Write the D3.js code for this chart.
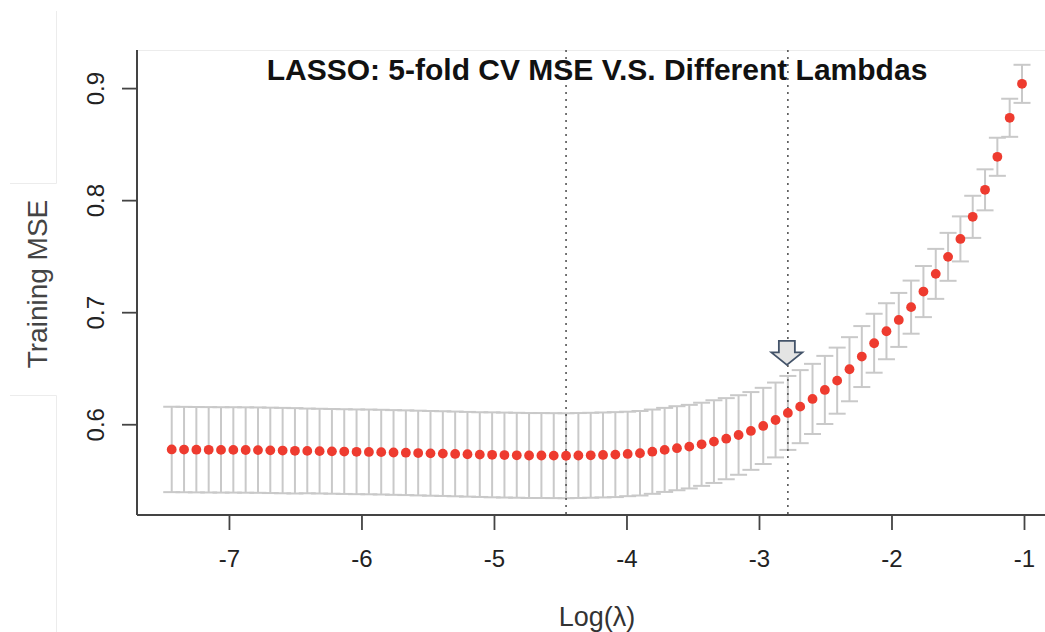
<!DOCTYPE html>
<html>
<head>
<meta charset="utf-8">
<script src="https://cdn.jsdelivr.net/npm/d3@7"></script>
<style>
  body { margin: 0; background: #fff; }
  svg { display: block; font-family: "Liberation Sans", Arial, sans-serif; }
</style>
</head>
<body>
<svg width="1045" height="632"></svg>
<script>
// log(lambda) grid
var logLambda = [-7.432, -7.339, -7.246, -7.153, -7.060, -6.967, -6.874, -6.781, -6.688, -6.595,
                 -6.502, -6.409, -6.316, -6.223, -6.130, -6.037, -5.944, -5.851, -5.758, -5.665,
                 -5.572, -5.479, -5.386, -5.293, -5.200, -5.107, -5.014, -4.921, -4.828, -4.735,
                 -4.642, -4.549, -4.456, -4.363, -4.270, -4.177, -4.084, -3.991, -3.898, -3.805,
                 -3.712, -3.619, -3.526, -3.433, -3.340, -3.247, -3.154, -3.061, -2.968, -2.875,
                 -2.782, -2.689, -2.596, -2.503, -2.410, -2.317, -2.224, -2.131, -2.038, -1.945,
                 -1.852, -1.759, -1.666, -1.573, -1.480, -1.387, -1.294, -1.201, -1.108, -1.015];

// mean cross-validated MSE
var cvm = [0.5775, 0.5774, 0.5773, 0.5772, 0.5771, 0.5771, 0.5770, 0.5769, 0.5767, 0.5765,
           0.5763, 0.5762, 0.5760, 0.5758, 0.5756, 0.5754, 0.5753, 0.5751, 0.5748, 0.5746,
           0.5743, 0.5740, 0.5738, 0.5735, 0.5732, 0.5729, 0.5727, 0.5725, 0.5723, 0.5721,
           0.5721, 0.5720, 0.5719, 0.5721, 0.5723, 0.5726, 0.5729, 0.5735, 0.5741, 0.5755,
           0.5771, 0.5786, 0.5800, 0.5821, 0.5845, 0.5871, 0.5904, 0.5940, 0.5985, 0.6038,
           0.6101, 0.6157, 0.6226, 0.6306, 0.6389, 0.6491, 0.6604, 0.6723, 0.6830, 0.6931,
           0.7045, 0.7184, 0.7342, 0.7494, 0.7654, 0.7851, 0.8092, 0.8387, 0.8735, 0.9038];

// standard error of the CV MSE
var cvsd = [0.0381, 0.0381, 0.0381, 0.0381, 0.0381, 0.0381, 0.0381, 0.0381, 0.0381, 0.0381,
            0.0381, 0.0378, 0.0378, 0.0378, 0.0378, 0.0378, 0.0378, 0.0378, 0.0378, 0.0378,
            0.0378, 0.0378, 0.0378, 0.0378, 0.0378, 0.0378, 0.0379, 0.0379, 0.0379, 0.0379,
            0.0379, 0.0379, 0.0379, 0.0379, 0.0379, 0.0379, 0.0379, 0.0377, 0.0377, 0.0376,
            0.0375, 0.0375, 0.0373, 0.0371, 0.0369, 0.0362, 0.0355, 0.0347, 0.0340, 0.0334,
            0.0330, 0.0326, 0.0313, 0.0304, 0.0295, 0.0286, 0.0272, 0.0263, 0.0250, 0.0241,
            0.0237, 0.0228, 0.0223, 0.0214, 0.0201, 0.0188, 0.0183, 0.0170, 0.0170, 0.0170];

var xTicks = [-7, -6, -5, -4, -3, -2, -1];
var yTicks = [0.6, 0.7, 0.8, 0.9];
var lambdaMin = -4.456, lambda1se = -2.782;

var svg = d3.select("svg"),
    width = +svg.attr("width"),
    height = +svg.attr("height");

var plotLeft = 137, plotTop = 50, plotBottom = 515;

var x = d3.scaleLinear().domain([-7.694, -0.8415]).range([plotLeft, width]);
var y = d3.scaleLinear().domain([0.519, 0.934]).range([plotBottom, plotTop]);

var data = logLambda.map(function(d, i) { return { x: d, m: cvm[i], s: cvsd[i] }; });

// faint frame lines left over from the screenshot
var faint = svg.append("g").attr("stroke", "#ececec").attr("stroke-width", 1).attr("fill", "none");
faint.append("path").attr("d", "M56.5,11V183.5H10");
faint.append("path").attr("d", "M10,395.5H56.5V632");
faint.append("path").attr("d", "M" + plotLeft + ",50.5H" + width);

// error bars
var bars = svg.append("g").attr("stroke", "#c9c9c9").attr("stroke-width", 2);
var cap = 8.5;
data.forEach(function(d) {
  var cx = x(d.x);
  bars.append("line").attr("x1", cx).attr("x2", cx).attr("y1", y(d.m + d.s)).attr("y2", y(d.m - d.s));
  bars.append("line").attr("x1", cx - cap).attr("x2", cx + cap).attr("y1", y(d.m + d.s)).attr("y2", y(d.m + d.s));
  bars.append("line").attr("x1", cx - cap).attr("x2", cx + cap).attr("y1", y(d.m - d.s)).attr("y2", y(d.m - d.s));
});

// lambda.min and lambda.1se lines
[lambdaMin, lambda1se].forEach(function(v) {
  svg.append("line")
      .attr("x1", x(v)).attr("x2", x(v))
      .attr("y1", plotTop).attr("y2", plotBottom)
      .attr("stroke", "#555")
      .attr("stroke-width", 1.6)
      .attr("stroke-dasharray", "2,5");
});

// points
svg.append("g").selectAll("circle")
    .data(data)
    .enter().append("circle")
    .attr("cx", function(d) { return x(d.x); })
    .attr("cy", function(d) { return y(d.m); })
    .attr("r", 4.9)
    .attr("fill", "#ee3b2f");

// arrow over lambda.1se
var ax = x(lambda1se) - 1, ay = y(cvm[50] + cvsd[50]) - 11;
svg.append("path")
    .attr("d", "M" + (ax - 8) + "," + (ay - 24) + "h16v11.5h7.5l-15.5,12.5l-15.5,-12.5h7.5z")
    .attr("fill", "#e4e4e4")
    .attr("stroke", "#44546a")
    .attr("stroke-width", 1.8)
    .attr("stroke-linejoin", "miter");

// axes
var xAxis = svg.append("g")
    .attr("transform", "translate(0," + plotBottom + ")")
    .call(d3.axisBottom(x).tickValues(xTicks).tickSize(15).tickPadding(20)
      .tickFormat(function(d) { return String(d); }));
xAxis.select(".domain").attr("d", "M" + plotLeft + ",0H" + width).attr("stroke", "#444").attr("stroke-width", 2);

var yAxis = svg.append("g")
    .attr("transform", "translate(" + plotLeft + ",0)")
    .call(d3.axisLeft(y).tickValues(yTicks).tickSize(15).tickFormat(d3.format(".1f")));
yAxis.select(".domain").attr("d", "M0," + plotTop + "V" + plotBottom).attr("stroke", "#444").attr("stroke-width", 2);

svg.selectAll(".tick line").attr("stroke", "#444").attr("stroke-width", 1.8);
svg.selectAll(".tick text").attr("fill", "#222").style("font-size", "24px")
    .style("font-family", "'Liberation Sans', Arial, sans-serif");

yAxis.selectAll(".tick text")
    .attr("x", null).attr("dy", null)
    .attr("text-anchor", "middle")
    .attr("transform", "translate(-33.5,0) rotate(-90)");

// titles
svg.append("text")
    .attr("x", 597).attr("y", 80)
    .attr("text-anchor", "middle")
    .style("font-size", "30px").style("font-weight", "bold")
    .attr("fill", "#111")
    .text("LASSO: 5-fold CV MSE V.S. Different Lambdas");

svg.append("text")
    .attr("x", 597).attr("y", 626)
    .attr("text-anchor", "middle")
    .style("font-size", "27px")
    .attr("fill", "#333")
    .text("Log(λ)");

svg.append("text")
    .attr("transform", "translate(47,284) rotate(-90)")
    .attr("text-anchor", "middle")
    .style("font-size", "28px")
    .attr("fill", "#444")
    .text("Training MSE");
</script>
</body>
</html>
